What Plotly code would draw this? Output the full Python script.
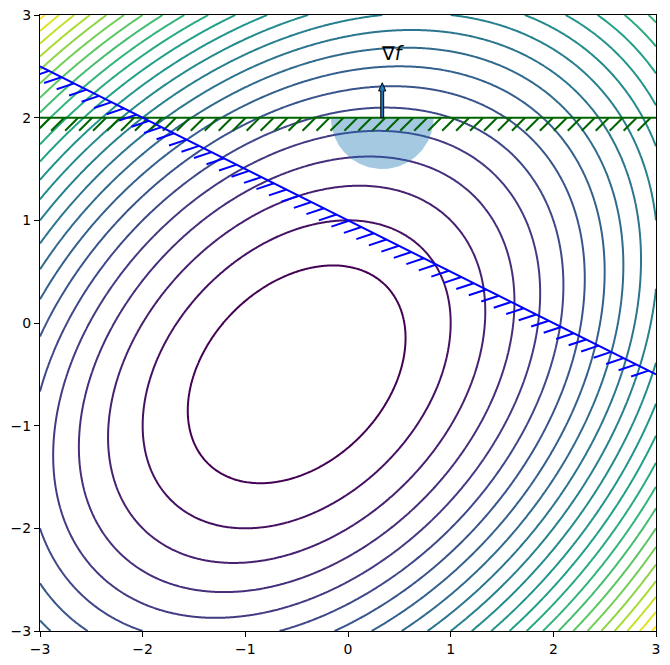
import numpy as np
import plotly.graph_objects as go

# ---- data ----
# quadratic objective f = a*u^2 + b*v^2 + c*u*v, u = x - cx, v = y - cy
obj_center = [-0.5, -0.5]
obj_coef = [1.0, 1.0, -2.0 / 3.0]          # a, b, c
contour_levels = [1, 24, 1]                # start, end, step
axis_range = [-3, 3]
tick_vals = [-3, -2, -1, 0, 1, 2, 3]
tick_text = ["\u22123", "\u22122", "\u22121", "0", "1", "2", "3"]

# constraint lines (endpoints)
blue_x = [-3.0, 3.0]
blue_y = [2.5, -0.5]
green_x = [-3.0, 3.0]
green_y = [2.0, 2.0]

# optimum point on the active constraint, half-disk radius, gradient arrow length
opt_point = [1.0 / 3.0, 2.0]
disk_radius = 0.5
arrow_len = 0.34
grad_label = "\u2207<i>f</i>"

# ---- build figure ----
xs = np.linspace(axis_range[0], axis_range[1], 401)
ys = np.linspace(axis_range[0], axis_range[1], 401)
X, Y = np.meshgrid(xs, ys)
U = X - obj_center[0]
V = Y - obj_center[1]
Z = obj_coef[0] * U**2 + obj_coef[1] * V**2 + obj_coef[2] * U * V

fig = go.Figure()

fig.add_trace(go.Contour(
    x=xs, y=ys, z=Z,
    contours=dict(start=contour_levels[0], end=contour_levels[1],
                  size=contour_levels[2], coloring="lines"),
    autocontour=False,
    colorscale="Viridis", zmin=contour_levels[0], zmax=contour_levels[1],
    line=dict(width=2), showscale=False, hoverinfo="skip",
))

# half disk below the active constraint
th = np.linspace(np.pi, 2 * np.pi, 100)
disk_x = opt_point[0] + disk_radius * np.cos(th)
disk_y = opt_point[1] + disk_radius * np.sin(th)
fig.add_trace(go.Scatter(
    x=np.r_[disk_x, disk_x[0]], y=np.r_[disk_y, disk_y[0]],
    fill="toself", fillcolor="rgba(31,119,180,0.4)",
    line=dict(width=0), mode="lines", hoverinfo="skip", showlegend=False,
))


def ticked(xv, yv, spacing, length, angle_deg, offset):
    p0 = np.array([xv[0], yv[0]])
    p1 = np.array([xv[1], yv[1]])
    L = np.linalg.norm(p1 - p0)
    d = (p1 - p0) / L
    a = np.deg2rad(angle_deg)
    t = np.array([d[0] * np.cos(a) - d[1] * np.sin(a),
                  d[0] * np.sin(a) + d[1] * np.cos(a)])
    tx, ty = [], []
    s = offset
    while s <= L + 1e-9:
        p = p0 + s * d
        q = p + length * t
        tx += [p[0], q[0], None]
        ty += [p[1], q[1], None]
        s += spacing
    return tx, ty


tick_spacing = 0.136
tick_length = 0.18

for cx_, cy_, col in [(green_x, green_y, "#006400"), (blue_x, blue_y, "#0000ff")]:
    tx, ty = ticked(cx_, cy_, tick_spacing, tick_length, -135, 0.1)
    fig.add_trace(go.Scatter(x=tx, y=ty, mode="lines",
                             line=dict(color=col, width=2),
                             hoverinfo="skip", showlegend=False))
    fig.add_trace(go.Scatter(x=cx_, y=cy_, mode="lines",
                             line=dict(color=col, width=2),
                             hoverinfo="skip", showlegend=False))

# gradient arrow
xc, y0 = opt_point
tip = y0 + arrow_len
w, hw, hl = 0.014, 0.035, 0.08
ax_ = [xc - w, xc - w, xc - hw, xc, xc + hw, xc + w, xc + w, xc - w]
ay_ = [y0, tip - hl, tip - hl, tip, tip - hl, tip - hl, y0, y0]
fig.add_trace(go.Scatter(x=ax_, y=ay_, mode="lines", fill="toself",
                         fillcolor="#1f77b4", line=dict(color="black", width=1),
                         hoverinfo="skip", showlegend=False))

fig.add_annotation(x=xc - 0.03, y=tip + 0.29, text=grad_label, showarrow=False,
                   xanchor="left", yanchor="middle",
                   font=dict(family="DejaVu Sans", size=19, color="black"))

axis_common = dict(
    range=axis_range, tickvals=tick_vals, ticktext=tick_text,
    showgrid=False, zeroline=False, showline=True, linecolor="black",
    linewidth=1, mirror=True, ticks="outside", ticklen=5, tickwidth=1,
    tickcolor="black", tickfont=dict(family="DejaVu Sans", size=14, color="black"),
)
fig.update_xaxes(**axis_common)
fig.update_yaxes(**axis_common)

fig.update_layout(
    width=670, height=665,
    margin=dict(l=40, r=14, t=15, b=34, autoexpand=False),
    plot_bgcolor="white", paper_bgcolor="white",
    showlegend=False,
)

fig.write_html(
    "out.html",
    config={"displayModeBar": False},
    post_script="document.body.style.margin='0px';document.body.style.padding='0px';"
                "document.documentElement.style.overflow='hidden';",
)
